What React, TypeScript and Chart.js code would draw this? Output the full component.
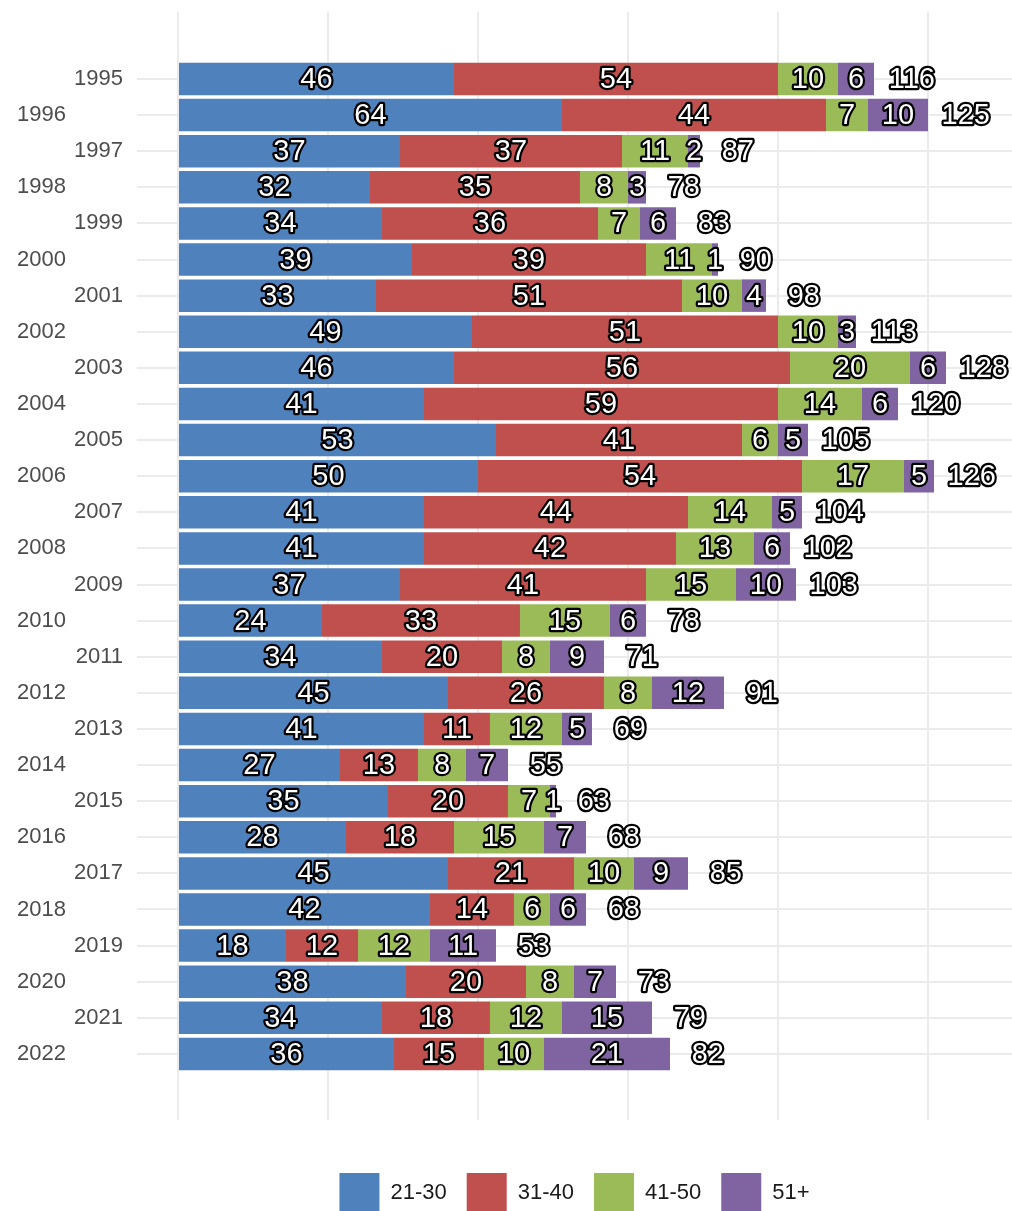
import { useEffect, useRef } from 'react';
import { Chart, registerables } from 'chart.js';
Chart.register(...registerables);

const years = ['1995','1996','1997','1998','1999','2000','2001','2002','2003','2004','2005','2006','2007','2008','2009','2010','2011','2012','2013','2014','2015','2016','2017','2018','2019','2020','2021','2022'];
const age21_30 = [46,64,37,32,34,39,33,49,46,41,53,50,41,41,37,24,34,45,41,27,35,28,45,42,18,38,34,36];
const age31_40 = [54,44,37,35,36,39,51,51,56,59,41,54,44,42,41,33,20,26,11,13,20,18,21,14,12,20,18,15];
const age41_50 = [10,7,11,8,7,11,10,10,20,14,6,17,14,13,15,15,8,8,12,8,7,15,10,6,12,8,12,10];
const age51plus = [6,10,2,3,6,1,4,3,6,6,5,5,5,6,10,6,9,12,5,7,1,7,9,6,11,7,15,21];
const seriesLabels = ['21-30','31-40','41-50','51+'];
const seriesColors = ['#4F81BD','#C0504D','#9BBB59','#8064A2'];
const xTicks = [0,25,50,75,100,125];

const FONT = "'Liberation Sans', Arial, Helvetica, sans-serif";
const Y_MIN = -1.855;
const Y_MAX = 28.83;

const labelPlugin = {
  id: 'barLabels',
  afterDatasetsDraw(chart: any) {
    const ctx = chart.ctx;
    ctx.save();
    ctx.font = `29px ${FONT}`;
    ctx.textAlign = 'center';
    ctx.textBaseline = 'middle';
    ctx.lineJoin = 'round';
    ctx.lineWidth = 4.5;
    ctx.strokeStyle = '#000';
    ctx.fillStyle = '#fff';
    const draw = (t: string, x: number, y: number) => { ctx.strokeText(t, x, y); ctx.fillText(t, x, y); };
    chart.data.datasets.forEach((ds: any, di: number) => {
      const meta = chart.getDatasetMeta(di);
      meta.data.forEach((el: any, i: number) => {
        const p = el.getProps(['x', 'base', 'y'], true);
        draw(String(ds.data[i].x), (p.x + p.base) / 2, p.y + 1);
      });
    });
    const xs = chart.scales.x, ys = chart.scales.y;
    years.forEach((_, i) => {
      const total = age21_30[i] + age31_40[i] + age41_50[i] + age51plus[i];
      draw(String(total), xs.getPixelForValue(total + 6.3), ys.getPixelForValue(i) + 1);
    });
    ctx.restore();
  }
};

export default function App() {
  const ref = useRef<HTMLCanvasElement>(null);
  useEffect(() => {
    if (!ref.current) return;
    const series = [age21_30, age31_40, age41_50, age51plus];
    const idxTicks = years.map((_, i) => ({ value: i }));
    const chart = new Chart(ref.current, {
      type: 'bar',
      data: {
        datasets: series.map((arr, k) => ({
          label: seriesLabels[k],
          data: arr.map((v, i) => ({ x: v, y: i })),
          backgroundColor: seriesColors[k],
          borderWidth: 0,
          categoryPercentage: 1,
          barPercentage: 0.9,
          yAxisID: 'y',
        })),
      },
      options: {
        indexAxis: 'y',
        responsive: false,
        animation: false,
        layout: { padding: { top: 12, left: 0, right: 0, bottom: 0 } },
        font: { family: FONT },
        plugins: {
          tooltip: { enabled: false },
          legend: {
            position: 'bottom',
            fullSize: false,
            align: 'center',
            labels: {
              boxWidth: 40,
              boxHeight: 40,
              padding: 20,
              color: '#1a1a1a',
              font: { size: 22, family: FONT },
            },
          },
        },
        scales: {
          x: {
            type: 'linear',
            stacked: true,
            min: -6.83,
            max: 139,
            afterBuildTicks: (s: any) => { s.ticks = xTicks.map((v) => ({ value: v })); },
            afterFit: (s: any) => { s.height = 33; s.paddingLeft = 0; s.paddingRight = 0; },
            ticks: { display: false },
            grid: { color: '#ebebeb', lineWidth: 2, drawTicks: false },
            border: { display: false },
          },
          y: {
            type: 'linear',
            stacked: true,
            reverse: true,
            offset: false,
            min: Y_MIN,
            max: Y_MAX,
            weight: 0,
            afterBuildTicks: (s: any) => { s.ticks = idxTicks.map((t) => ({ ...t })); },
            afterFit: (s: any) => { s.width = 67; s.paddingTop = 0; s.paddingBottom = 0; },
            ticks: {
              autoSkip: false,
              padding: 14,
              color: '#4d4d4d',
              font: { size: 22, family: FONT },
              callback: (v: any) => (Number(v) % 2 === 0 ? years[Number(v)] : ''),
            },
            grid: { color: '#ebebeb', lineWidth: 2, drawTicks: false, offset: false },
            border: { display: false },
          },
          y2: {
            type: 'linear',
            position: 'left',
            reverse: true,
            offset: false,
            min: Y_MIN,
            max: Y_MAX,
            weight: 1,
            afterBuildTicks: (s: any) => { s.ticks = idxTicks.map((t) => ({ ...t })); },
            afterFit: (s: any) => { s.width = 70; s.paddingTop = 0; s.paddingBottom = 0; },
            ticks: {
              autoSkip: false,
              padding: 4,
              color: '#4d4d4d',
              font: { size: 22, family: FONT },
              callback: (v: any) => (Number(v) % 2 === 1 ? years[Number(v)] : ''),
            },
            grid: { display: false, drawTicks: false, offset: false },
            border: { display: false },
          },
        },
      } as any,
      plugins: [labelPlugin],
    });
    return () => chart.destroy();
  }, []);
  return (
    <div style={{ position: 'absolute', left: 0, top: 0, width: 1012, height: 1211, overflow: 'hidden', background: '#fff' }}>
      <canvas ref={ref} width={1012} height={1223} style={{ display: 'block', width: 1012, height: 1223 }} />
    </div>
  );
}
